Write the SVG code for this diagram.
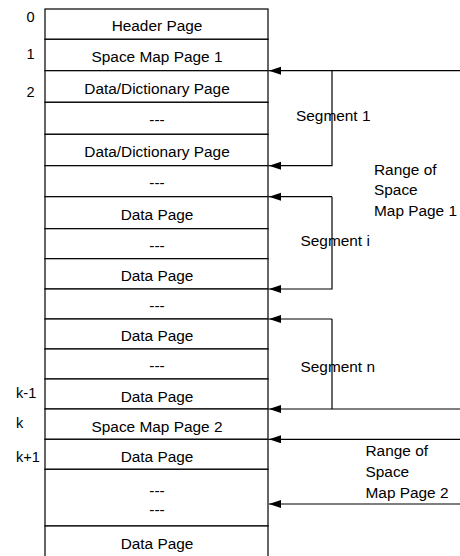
<svg xmlns="http://www.w3.org/2000/svg" width="460" height="556" viewBox="0 0 460 556">
<style>
.cell{fill:#fff;stroke:#000;stroke-width:1.2}
.lbl{font-family:"Liberation Sans",Arial,sans-serif;font-size:15.4px;fill:#000;text-anchor:middle}
.num{font-family:"Liberation Sans",Arial,sans-serif;font-size:14.6px;fill:#000}
.side{font-family:"Liberation Sans",Arial,sans-serif;font-size:15.4px;fill:#000}
.con{fill:none;stroke:#000;stroke-width:1.2}
</style>
<defs>
<marker id="ah" markerUnits="userSpaceOnUse" markerWidth="13" markerHeight="9" refX="12" refY="4" orient="auto">
<path d="M0,0 L12,4 L0,8 z" fill="#000"/>
</marker>
</defs>
<rect x="0" y="0" width="460" height="556" fill="#fff"/>
<g id="row0"><rect class="cell" x="45" y="9" width="223" height="30.3"/><text class="lbl" x="157" y="30.5">Header Page</text></g>
<g id="row1"><rect class="cell" x="45" y="39.3" width="223" height="31.4"/><text class="lbl" x="157" y="62">Space Map Page 1</text></g>
<g id="row2"><rect class="cell" x="45" y="70.7" width="223" height="31.6"/><text class="lbl" x="157" y="93.5">Data/Dictionary Page</text></g>
<g id="row3"><rect class="cell" x="45" y="102.3" width="223" height="32"/><text class="lbl" x="157" y="125">---</text></g>
<g id="row4"><rect class="cell" x="45" y="134.3" width="223" height="31.4"/><text class="lbl" x="157" y="157">Data/Dictionary Page</text></g>
<g id="row5"><rect class="cell" x="45" y="165.7" width="223" height="31"/><text class="lbl" x="157" y="188">---</text></g>
<g id="row6"><rect class="cell" x="45" y="196.7" width="223" height="32"/><text class="lbl" x="157" y="219.5">Data Page</text></g>
<g id="row7"><rect class="cell" x="45" y="228.7" width="223" height="30"/><text class="lbl" x="157" y="250.5">---</text></g>
<g id="row8"><rect class="cell" x="45" y="258.7" width="223" height="30.3"/><text class="lbl" x="157" y="281">Data Page</text></g>
<g id="row9"><rect class="cell" x="45" y="289" width="223" height="30"/><text class="lbl" x="157" y="311">---</text></g>
<g id="row10"><rect class="cell" x="45" y="319" width="223" height="30"/><text class="lbl" x="157" y="341">Data Page</text></g>
<g id="row11"><rect class="cell" x="45" y="349" width="223" height="30"/><text class="lbl" x="157" y="371">---</text></g>
<g id="row12"><rect class="cell" x="45" y="379" width="223" height="30"/><text class="lbl" x="157" y="401.5">Data Page</text></g>
<g id="row13"><rect class="cell" x="45" y="409" width="223" height="30.3"/><text class="lbl" x="157" y="431.5">Space Map Page 2</text></g>
<g id="row14"><rect class="cell" x="45" y="439.3" width="223" height="30"/><text class="lbl" x="157" y="461.5">Data Page</text></g>
<g id="row15"><rect class="cell" x="45" y="469.3" width="223" height="56.7"/><text class="lbl" x="157" y="495.5">---</text><text class="lbl" x="157" y="515">---</text></g>
<g id="row16"><rect class="cell" x="45" y="526" width="223" height="40"/><text class="lbl" x="157" y="548.5">Data Page</text></g>
<g id="numbers">
<text class="num" x="26.5" y="21.5">0</text>
<text class="num" x="26.5" y="59">1</text>
<text class="num" x="26.5" y="96.5">2</text>
<text class="num" x="16" y="397.5">k-1</text>
<text class="num" x="16" y="427.5">k</text>
<text class="num" x="16" y="461.5">k+1</text>
</g>
<g id="connectors">
<path class="con" d="M460,70.7 H269" marker-end="url(#ah)"/>
<path class="con" d="M332,70.7 V165.7 H269" marker-end="url(#ah)"/>
<path class="con" d="M332,196.7 H269" marker-end="url(#ah)"/>
<path class="con" d="M332,196.7 V289 H269" marker-end="url(#ah)"/>
<path class="con" d="M332,319 H269" marker-end="url(#ah)"/>
<path class="con" d="M332,319 V409"/>
<path class="con" d="M460,409 H269" marker-end="url(#ah)"/>
<path class="con" d="M460,439.3 H269" marker-end="url(#ah)"/>
<path class="con" d="M460,504 H269" marker-end="url(#ah)"/>
</g>
<g id="labels">
<text class="side" x="296" y="121">Segment 1</text>
<text class="side" x="300.5" y="245.5">Segment i</text>
<text class="side" x="300.5" y="371.5">Segment n</text>
<text class="side" x="374" y="174.5">Range of</text>
<text class="side" x="374" y="195">Space</text>
<text class="side" x="374" y="215.5">Map Page 1</text>
<text class="side" x="365.5" y="456">Range of</text>
<text class="side" x="365.5" y="477">Space</text>
<text class="side" x="365.5" y="498">Map Page 2</text>
</g>
</svg>
